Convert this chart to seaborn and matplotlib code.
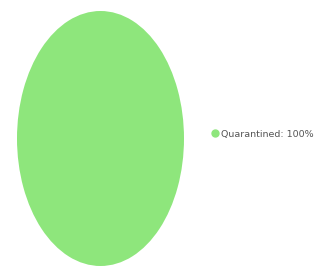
import matplotlib
matplotlib.use("Agg")
import matplotlib.pyplot as plt
import seaborn as sns
from matplotlib.lines import Line2D

sns.set_theme(style="white")

# data
labels = ["Quarantined"]
values = [100]
colors = ["#8ee67c"]

fig = plt.figure(figsize=(3.17, 2.68), dpi=100)
# stretched pie -> ellipse like the reference
ax = fig.add_axes([17/317, 2/268, 167/317, 255/268])
ax.pie(values, colors=colors, startangle=90, radius=1.0,
       wedgeprops=dict(linewidth=0))
ax.set_aspect("auto")
ax.set_xlim(-1, 1)
ax.set_ylim(-1, 1)
ax.axis("off")

handles = [Line2D([0], [0], marker="o", linestyle="", markersize=5,
                  markerfacecolor=colors[i], markeredgecolor=colors[i],
                  label=f"{labels[i]}: {values[i]}%") for i in range(len(labels))]
fig.legend(handles=handles, loc="center left", bbox_to_anchor=(202/317, 1 - 134/268),
           frameon=False, fontsize=6.8, handletextpad=0.1, labelcolor="#555555",
           handlelength=1)

fig.savefig("out.png", dpi=100)
